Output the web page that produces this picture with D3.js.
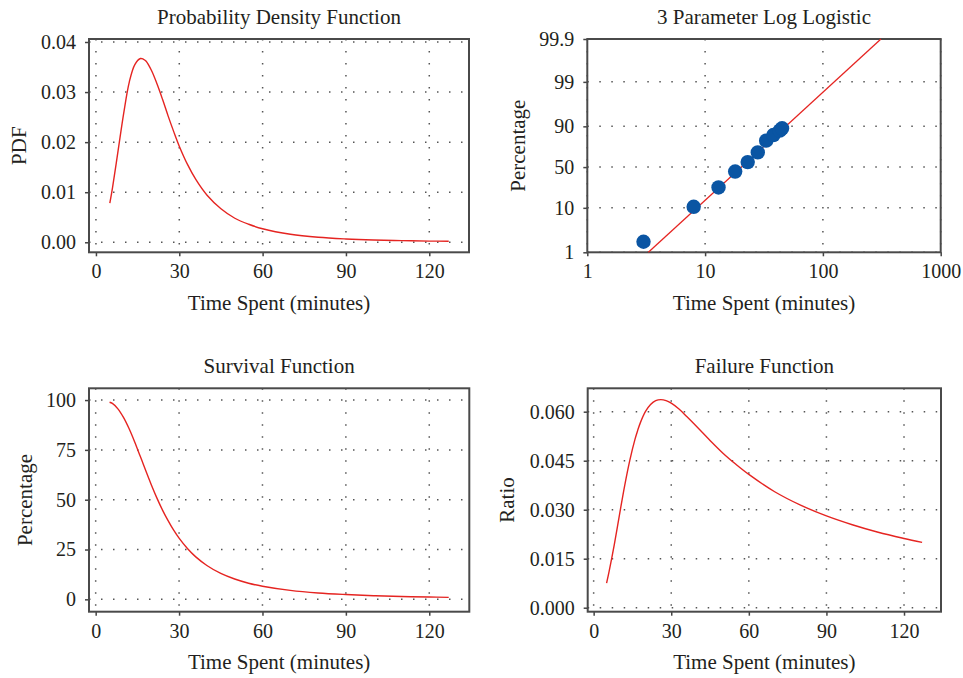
<!DOCTYPE html>
<html>
<head>
<meta charset="utf-8">
<script src="https://d3js.org/d3.v7.min.js"></script>
<style>
    body { margin: 0; background: #fff; }
    svg text { font-family: 'Liberation Serif', 'Times New Roman', serif; fill: #231f20; }
</style>
</head>
<body>
<div id="graph"></div>
<script>
// ------- data ---------------------------------

var times = [5, 6, 8, 10, 12, 14, 16, 17, 18, 20, 22, 24, 26, 28, 30, 33, 36, 40, 45, 50, 55, 60, 70, 80, 90, 100, 110, 120, 127];

var pdfValues = [0.0078, 0.0110, 0.0184, 0.0258, 0.0320, 0.0355, 0.0367, 0.0366, 0.0362, 0.0343, 0.0316, 0.0285, 0.0252, 0.0221, 0.0192,
    0.0155, 0.0125, 0.0094, 0.0067, 0.0048, 0.0036, 0.0027, 0.0016, 0.0010, 0.00067, 0.00046, 0.00033, 0.00024, 0.00020];

var survivalPct = [98.9, 98.3, 95.6, 91.3, 85.7, 79.1, 71.9, 68.3, 64.6, 57.5, 50.9, 44.9, 39.6, 34.8, 30.7,
    25.5, 21.3, 17.0, 13.0, 10.2, 8.1, 6.6, 4.5, 3.2, 2.4, 1.8, 1.4, 1.15, 1.0];

var failureRatio = [0.0075, 0.0112, 0.0194, 0.0285, 0.0374, 0.0452, 0.0516, 0.0542, 0.0565, 0.0600, 0.0622, 0.0634, 0.0637, 0.0634, 0.0626,
    0.0608, 0.0585, 0.0553, 0.0512, 0.0473, 0.0439, 0.0408, 0.0355, 0.0314, 0.0281, 0.0254, 0.0231, 0.0212, 0.0200];

// probability plot
var plotTimes = [3, 8, 13, 18, 23, 28, 33, 38, 43, 45];
var plotPct = [1.75, 10.5, 25, 44, 56.7, 68.8, 80.6, 84.9, 87.7, 89.0];
var fitTimes = [3.3, 311];
var fitPct = [1, 99.9];

// ticks
var timeTicks = [0, 30, 60, 90, 120];
var pdfTicks = [0, 0.01, 0.02, 0.03, 0.04];
var survTicks = [0, 25, 50, 75, 100];
var failTicks = [0, 0.015, 0.03, 0.045, 0.06];
var logTicks = [1, 10, 100, 1000];
var pctTicks = [1, 10, 50, 90, 99, 99.9];

// ------- SVG --------

var width = 963, height = 678;
var red = '#e52421', blue = '#0a55a3';

var svg = d3.select('#graph').append('svg')
    .attr('width', width)
    .attr('height', height);

function logit(p) { return Math.log(p / (100 - p)); }

function panel(box, x, y, xTicks, yTicks, xFormat, yFormat, title, yLabel, yLabelX) {
    var g = svg.append('g');
    var cx = (box.left + box.right) / 2,
        cy = (box.top + box.bottom) / 2;

    // dotted grid
    g.selectAll('.vgrid').data(xTicks).enter().append('line')
        .attr('x1', function(d) { return x(d) }).attr('x2', function(d) { return x(d) })
        .attr('y1', box.top).attr('y2', box.bottom)
        .style('stroke', '#555').style('stroke-width', 1.5).style('stroke-dasharray', '1.5,10.5')
    g.selectAll('.hgrid').data(yTicks).enter().append('line')
        .attr('y1', function(d) { return y(d) }).attr('y2', function(d) { return y(d) })
        .attr('x1', box.left).attr('x2', box.right)
        .style('stroke', '#555').style('stroke-width', 1.5).style('stroke-dasharray', '1.5,10.5')

    // axes
    var xAxis = d3.axisBottom(x).tickValues(xTicks).tickFormat(xFormat).tickSize(4).tickPadding(8);
    var yAxis = d3.axisLeft(y).tickValues(yTicks).tickFormat(yFormat).tickSize(4).tickPadding(9);

    g.append('g').attr('transform', 'translate(0,' + box.bottom + ')').call(xAxis);
    g.append('g').attr('transform', 'translate(' + box.left + ',0)').call(yAxis);
    g.selectAll('.domain').remove();
    g.selectAll('.tick line').style('stroke', '#444').style('stroke-width', 1.5);
    g.selectAll('.tick text').style('font-size', '20px').style('fill', '#231f20')
        .style('font-family', "'Liberation Serif', serif");

    // frame
    g.append('rect')
        .attr('x', box.left).attr('y', box.top)
        .attr('width', box.right - box.left).attr('height', box.bottom - box.top)
        .style('fill', 'none').style('stroke', '#4a4a4a').style('stroke-width', 2);

    // labels
    g.append('text').text(title)
        .attr('x', cx).attr('y', box.top - 15)
        .style('text-anchor', 'middle').style('font-size', '21px');
    g.append('text').text('Time Spent (minutes)')
        .attr('x', cx).attr('y', box.bottom + 57.5)
        .style('text-anchor', 'middle').style('font-size', '21px');
    g.append('text').text(yLabel)
        .attr('transform', 'translate(' + yLabelX + ',' + cy + ')rotate(-90)')
        .style('text-anchor', 'middle').style('font-size', '21px');

    return g;
}

var line = function(x, y, xs, ys) {
    return d3.line()
        .x(function(d, i) { return x(xs[i]) })
        .y(function(d, i) { return y(ys[i]) })
        .curve(d3.curveCatmullRom)(xs);
}

// ------- PDF --------

var b1 = {left: 89, top: 39, right: 469, bottom: 252.3};
var x1 = d3.scaleLinear().domain([-2.5, 134.3]).range([b1.left, b1.right]),
    y1 = d3.scaleLinear().domain([-0.002, 0.0406]).range([b1.bottom, b1.top]);
var g1 = panel(b1, x1, y1, timeTicks, pdfTicks, d3.format('d'), d3.format('.2f'),
    'Probability Density Function', 'PDF', 26);
g1.append('path').attr('d', line(x1, y1, times, pdfValues))
    .style('fill', 'none').style('stroke', red).style('stroke-width', 1.4);

// ------- 3 parameter log logistic --------

var b2 = {left: 587.3, top: 39, right: 940.7, bottom: 252.3};
var x2 = d3.scaleLog().domain([1, 1000]).range([b2.left, b2.right]),
    yl = d3.scaleLinear().domain([logit(1), logit(99.9)]).range([b2.bottom, b2.top]),
    y2 = function(p) { return yl(logit(p)) };
y2.copy = function() { return y2 };
y2.range = function() { return yl.range() };
var g2 = panel(b2, x2, y2, logTicks, pctTicks, d3.format('d'), function(d) { return d },
    '3 Parameter Log Logistic', 'Percentage', 525);

g2.append('path').attr('d', d3.line()
        .x(function(d, i) { return x2(fitTimes[i]) })
        .y(function(d, i) { return y2(fitPct[i]) })(fitTimes))
    .style('fill', 'none').style('stroke', red).style('stroke-width', 1.3);

g2.selectAll('circle').data(plotTimes).enter().append('circle')
    .attr('cx', function(d) { return x2(d) })
    .attr('cy', function(d, i) { return y2(plotPct[i]) })
    .attr('r', 7.2)
    .style('fill', blue);

// ------- survival --------

var b3 = {left: 89, top: 388.3, right: 469.3, bottom: 611.7};
var x3 = d3.scaleLinear().domain([-2.4, 134.4]).range([b3.left, b3.right]),
    y3 = d3.scaleLinear().domain([-6.2, 105.9]).range([b3.bottom, b3.top]);
var g3 = panel(b3, x3, y3, timeTicks, survTicks, d3.format('d'), d3.format('d'),
    'Survival Function', 'Percentage', 31.7);
g3.append('path').attr('d', line(x3, y3, times, survivalPct))
    .style('fill', 'none').style('stroke', red).style('stroke-width', 1.4);

// ------- failure --------

var b4 = {left: 587.7, top: 388.3, right: 941, bottom: 611.7};
var x4 = d3.scaleLinear().domain([-2.3, 134.3]).range([b4.left, b4.right]),
    y4 = d3.scaleLinear().domain([-0.00122, 0.06716]).range([b4.bottom, b4.top]);
var g4 = panel(b4, x4, y4, timeTicks, failTicks, d3.format('d'), d3.format('.3f'),
    'Failure Function', 'Ratio', 514.3);
g4.append('path').attr('d', line(x4, y4, times, failureRatio))
    .style('fill', 'none').style('stroke', red).style('stroke-width', 1.4);
</script>
</body>
</html>
